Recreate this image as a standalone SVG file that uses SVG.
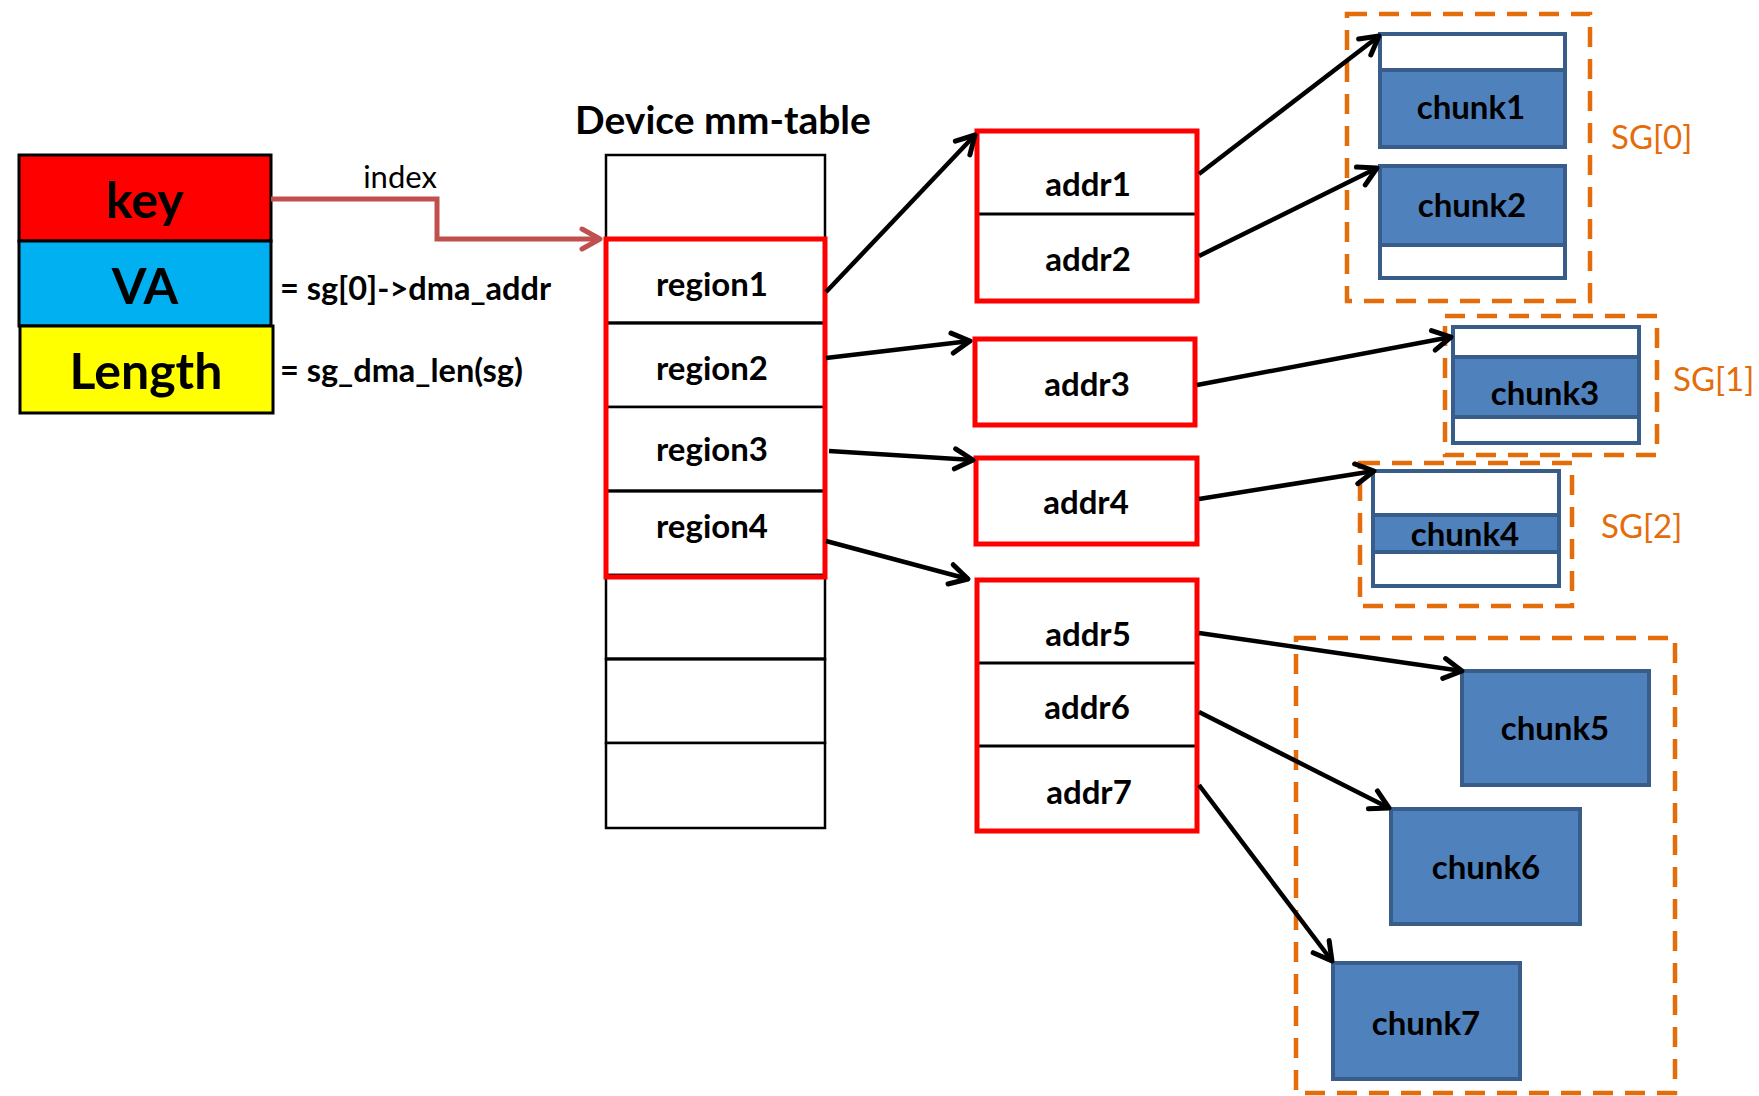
<svg xmlns="http://www.w3.org/2000/svg" width="1759" height="1096" viewBox="0 0 1759 1096">
<style>
.t{font-family:Lato,"Liberation Sans",sans-serif;font-weight:bold;fill:#000;text-anchor:middle;dominant-baseline:central}
.n{font-size:33px}
.big{font-size:50px}
.sg{font-family:Lato,"Liberation Sans",sans-serif;font-size:33px;fill:#E46C0A;dominant-baseline:central}
.lbl{font-family:Lato,"Liberation Sans",sans-serif;fill:#000;dominant-baseline:central}
.eq{font-size:32.5px;font-weight:bold}
.cell{fill:#fff;stroke:#000;stroke-width:2.5}
.red{fill:none;stroke:#FF0000;stroke-width:5}
.div{stroke:#000;stroke-width:3}
.blue{fill:#4F81BD;stroke:#385D8A;stroke-width:4}
.wh{fill:#fff;stroke:#385D8A;stroke-width:4}
.dash{fill:none;stroke:#E46C0A;stroke-width:4.5;stroke-dasharray:20 12}
.arr{fill:none;stroke:#000;stroke-width:4.5;marker-end:url(#ah)}
</style>
<defs>
<marker id="ah" markerUnits="userSpaceOnUse" viewBox="0 0 26 26" refX="23" refY="13" markerWidth="26" markerHeight="26" orient="auto">
<path d="M5,3 L23,13 L5,23" fill="none" stroke="#000" stroke-width="5" stroke-linecap="round" stroke-linejoin="round"/>
</marker>
<marker id="ahr" markerUnits="userSpaceOnUse" viewBox="0 0 26 26" refX="23" refY="13" markerWidth="26" markerHeight="26" orient="auto">
<path d="M5,3 L23,13 L5,23" fill="none" stroke="#C0504D" stroke-width="5" stroke-linecap="round" stroke-linejoin="round"/>
</marker>
</defs>
<rect width="1759" height="1096" fill="#fff"/>

<g id="key-struct">
<rect x="19" y="155" width="252" height="86" fill="#FF0000" stroke="#000" stroke-width="3"/>
<text class="t big" x="145" y="199">key</text>
<rect x="19" y="241" width="252" height="85" fill="#00B0F0" stroke="#000" stroke-width="3"/>
<text class="t big" x="145" y="285">VA</text>
<rect x="20" y="326" width="253" height="87" fill="#FFFF00" stroke="#000" stroke-width="3"/>
<text class="t big" x="146" y="370">Length</text>
<text class="lbl eq" x="280" y="287">= sg[0]-&gt;dma_addr</text>
<text class="lbl eq" x="280" y="369">= sg_dma_len(sg)</text>
</g>

<g id="mm-table">
<text class="t" x="723" y="119" font-size="39">Device mm-table</text>
<rect class="cell" x="606" y="155" width="219" height="84"/>
<rect class="cell" x="606" y="239" width="219" height="84"/>
<rect class="cell" x="606" y="323" width="219" height="84"/>
<rect class="cell" x="606" y="407" width="219" height="84"/>
<rect class="cell" x="606" y="491" width="219" height="84"/>
<rect class="cell" x="606" y="575" width="219" height="84"/>
<rect class="cell" x="606" y="659" width="219" height="84"/>
<rect class="cell" x="606" y="743" width="219" height="85"/>
<line class="div" x1="606" y1="323" x2="825" y2="323"/>
<line class="div" x1="606" y1="491" x2="825" y2="491"/>
<line class="div" x1="606" y1="659" x2="825" y2="659"/>
<rect class="red" x="606" y="239" width="219" height="338"/>
<text class="t n" x="712" y="283">region1</text>
<text class="t n" x="712" y="367">region2</text>
<text class="t n" x="712" y="448">region3</text>
<text class="t n" x="712" y="525">region4</text>
</g>

<g id="addr12">
<line class="div" x1="977" y1="214" x2="1197" y2="214"/>
<rect class="red" x="977" y="131" width="220" height="170"/>
<text class="t n" x="1088" y="183">addr1</text>
<text class="t n" x="1088" y="258">addr2</text>
</g>
<g id="addr3">
<rect class="red" x="975" y="339" width="220" height="86"/>
<text class="t n" x="1087" y="383">addr3</text>
</g>
<g id="addr4">
<rect class="red" x="976" y="458" width="221" height="86"/>
<text class="t n" x="1086" y="501">addr4</text>
</g>
<g id="addr567">
<line class="div" x1="977" y1="663" x2="1197" y2="663"/>
<line class="div" x1="977" y1="746" x2="1197" y2="746"/>
<rect class="red" x="977" y="580" width="220" height="251"/>
<text class="t n" x="1088" y="633">addr5</text>
<text class="t n" x="1087" y="706">addr6</text>
<text class="t n" x="1089" y="791">addr7</text>
</g>

<g id="sg0">
<rect class="dash" x="1347" y="14" width="243" height="287"/>
<rect class="wh" x="1380" y="34" width="185" height="36"/>
<rect class="blue" x="1380" y="70" width="185" height="77"/>
<text class="t n" x="1471" y="106">chunk1</text>
<rect class="blue" x="1380" y="166" width="185" height="79"/>
<rect class="wh" x="1380" y="245" width="185" height="33"/>
<text class="t n" x="1472" y="204">chunk2</text>
<text class="sg" x="1611" y="136">SG[0]</text>
</g>
<g id="sg1">
<rect class="dash" x="1445" y="316" width="212" height="139"/>
<rect class="wh" x="1453" y="327" width="186" height="30"/>
<rect class="blue" x="1453" y="357" width="186" height="60"/>
<rect class="wh" x="1453" y="417" width="186" height="26"/>
<text class="t n" x="1545" y="392">chunk3</text>
<text class="sg" x="1673" y="378">SG[1]</text>
</g>
<g id="sg2">
<rect class="dash" x="1360" y="463" width="212" height="143"/>
<rect class="wh" x="1373" y="471" width="186" height="44"/>
<rect class="blue" x="1373" y="515" width="186" height="37"/>
<rect class="wh" x="1373" y="552" width="186" height="34"/>
<text class="t n" x="1465" y="533">chunk4</text>
<text class="sg" x="1601" y="525">SG[2]</text>
</g>
<g id="sg3">
<rect class="dash" x="1296" y="638" width="379" height="455"/>
<rect class="blue" x="1462" y="671" width="187" height="114"/>
<text class="t n" x="1555" y="727">chunk5</text>
<rect class="blue" x="1391" y="809" width="189" height="115"/>
<text class="t n" x="1486" y="866">chunk6</text>
<rect class="blue" x="1333" y="963" width="187" height="116"/>
<text class="t n" x="1426" y="1022">chunk7</text>
</g>

<g id="connectors">
<polyline points="271,199 437,199 437,239 600,239" fill="none" stroke="#C0504D" stroke-width="5" marker-end="url(#ahr)"/>
<text class="lbl" x="400" y="176" text-anchor="middle" style="font-size:31px">index</text>
<line class="arr" x1="826" y1="292" x2="975" y2="135"/>
<line class="arr" x1="826" y1="358" x2="970" y2="341"/>
<line class="arr" x1="829" y1="451" x2="973" y2="460"/>
<line class="arr" x1="826" y1="541" x2="968" y2="579"/>
<line class="arr" x1="1199" y1="174" x2="1379" y2="36"/>
<line class="arr" x1="1199" y1="256" x2="1377" y2="168"/>
<line class="arr" x1="1197" y1="385" x2="1451" y2="337"/>
<line class="arr" x1="1199" y1="499" x2="1374" y2="471"/>
<line class="arr" x1="1199" y1="633" x2="1462" y2="671"/>
<line class="arr" x1="1199" y1="712" x2="1389" y2="808"/>
<line class="arr" x1="1199" y1="785" x2="1332" y2="961"/>
</g>
</svg>
